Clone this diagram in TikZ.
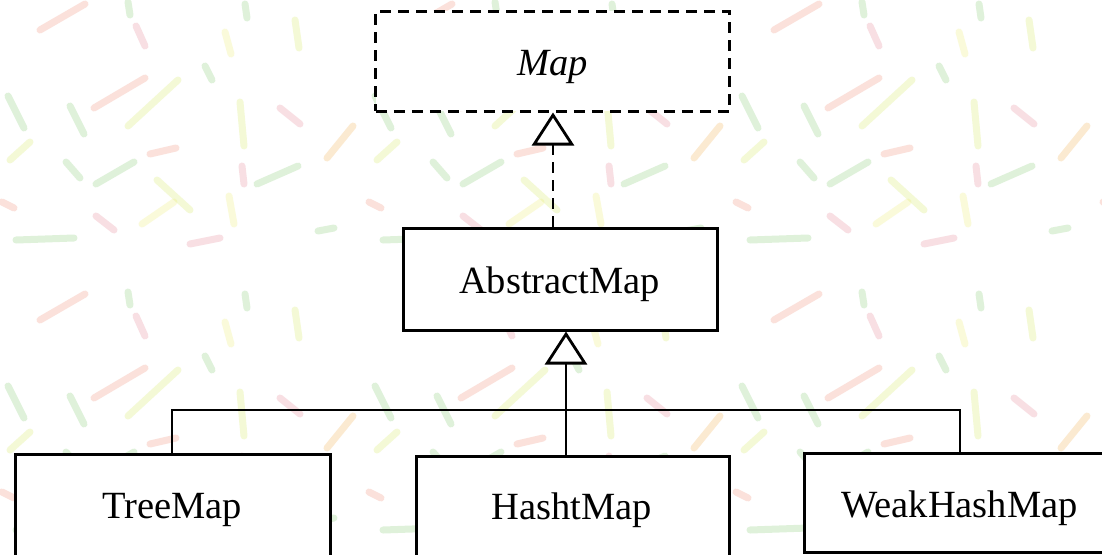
\documentclass[tikz,border=0pt]{standalone}
\usepackage{fontspec}
\setmainfont{Liberation Serif}
\usetikzlibrary{arrows.meta}
\definecolor{lsal}{RGB}{238,120,95}
\definecolor{lyg}{RGB}{205,230,70}
\definecolor{lgr}{RGB}{110,195,90}
\definecolor{lor}{RGB}{240,160,50}
\definecolor{lpk}{RGB}{225,110,130}
\definecolor{lye}{RGB}{235,235,90}
\begin{document}
\begin{tikzpicture}[x=1pt,y=-1pt,
  leaf/.style={line width=7pt,line cap=round,opacity=0.22},
  box/.style={draw,line width=3pt,fill=white,inner sep=0pt},
  lbl/.style={inner sep=0pt,font=\fontsize{38.5}{46}\selectfont},
  conn/.style={line width=2.8pt},
  dsh/.style={dash pattern=on 11pt off 7pt},
  gen/.style={-{Triangle[open,fill=white,length=33pt,width=42pt]}}]
\useasboundingbox (0,0) rectangle (1102,554);
\clip (0,0) rectangle (1102,554);
\fill[white] (0,0) rectangle (1102,554);
% background pattern
\foreach \ox in {0,367,734,1101}{
 \foreach \oy in {0,290}{
  \begin{scope}[shift={(\ox,\oy)}]
   \foreach \ax/\ay/\bx/\by/\c in {
     40/30/85/4/lsal, 128/2/130/15/lgr, 136/26/145/46/lpk, 225/32/231/54/lye,
     295/20/299/48/lyg, 245/4/247/18/lgr, 94/108/145/78/lsal, 128/126/178/80/lyg,
     8/96/24/128/lgr, 70/106/84/134/lgr, 205/66/212/80/lgr, 240/102/244/146/lyg,
     280/108/300/124/lpk, 327/158/353/126/lor, 10/160/30/142/lyg, 150/154/176/148/lsal,
     66/162/80/178/lgr, 96/184/134/162/lgr, 242/166/244/184/lpk, 257/184/298/166/lgr,
     157/180/190/210/lyg, 142/224/174/202/lye, 229/196/234/224/lye, 2/202/14/208/lsal,
     96/216/114/230/lpk, 16/240/74/238/lgr, 190/244/220/238/lpk, 318/231/334/228/lgr}
    \draw[leaf,\c] (\ax,\ay) -- (\bx,\by);
  \end{scope}}}
% boxes
\node[box,dsh,minimum width=353.5pt,minimum height=100pt] (map) at (552.5,61) {};
\node[box,minimum width=314pt,minimum height=102pt] (am) at (560,279) {};
\node[box,minimum width=315pt,minimum height=110pt] (tree) at (172.5,509) {};
\node[box,minimum width=313pt,minimum height=110pt] (hash) at (572.5,511) {};
\node[box,minimum width=306pt,minimum height=99pt] (weak) at (957,502.5) {};
% labels
\node[lbl,anchor=base] (mapt) at (552.5,75) {\textit{Map}};
\node[lbl,anchor=base] (amt) at (559.5,293) {AbstractMap};
\node[lbl,anchor=base] (treet) at (172,518) {TreeMap};
\node[lbl,anchor=base] (hasht) at (571.5,519) {HashtMap};
\node[lbl,anchor=base] (weakt) at (959.5,517) {WeakHashMap};
% connectors
\coordinate (t1) at (553,0);
\coordinate (t2) at (566,0);
\coordinate (busL) at (172,410);
\coordinate (busR) at (960,410);
\draw[conn,dsh,gen] (am.north -| t1) -- (map.south -| t1);
\draw[conn] (tree.north -| busL) -- (busL) -- (busR) -- (weak.north -| busR);
\draw[conn,gen] (hash.north -| t2) -- (am.south -| t2);
\end{tikzpicture}
\end{document}
